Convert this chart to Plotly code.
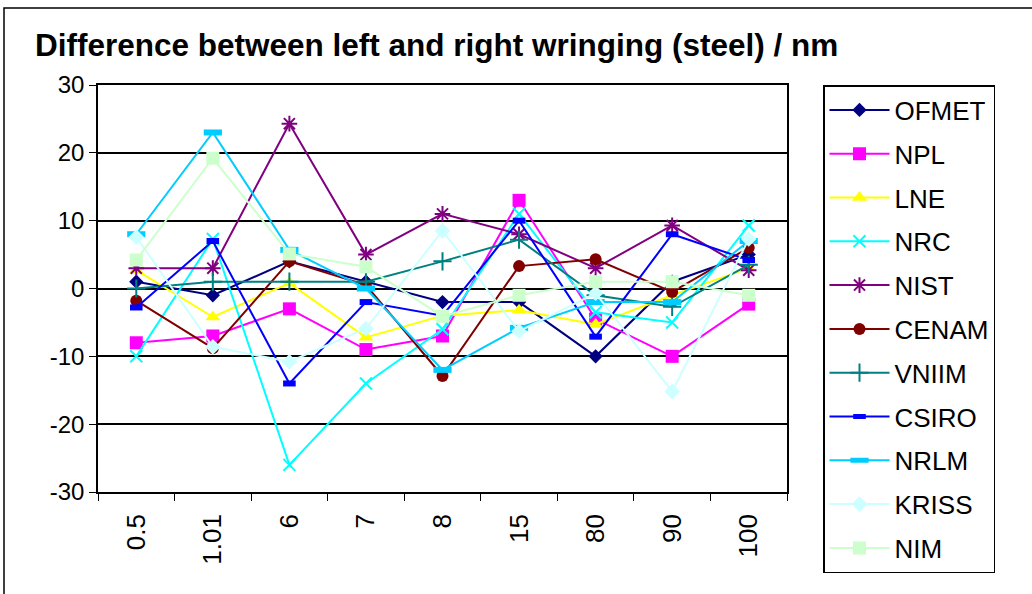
import plotly.graph_objects as go

categories = ["0.5", "1.01", "6", "7", "8", "15", "80", "90", "100"]

OFMET = [1, -1, 4, 1, -2, -2, -10, 1, 5]
NPL = [-8, -7, -3, -9, -7, 13, -4.5, -10, -2.3]
LNE = [2.7, -4.2, 0.8, -7.2, -4, -3.2, -5.3, -1, 3]
NRC = [-10, 7.3, -26, -14, -6, 11, -3.5, -5, 9.3]
NIST = [3, 3, 24.3, 5, 11, 8, 3, 9.3, 2.7]
CENAM = [-1.8, -8.8, 4, 0.5, -12.9, 3.3, 4.3, -0.5, 6]
VNIIM = [0, 1, 1, 1, 4, 7.2, -1, -2.7, 3.5]
CSIRO = [-2.8, 7, -14, -2, -4, 10, -7.1, 8, 4.2]
NRLM = [8, 23, 5.7, 0, -12, -5.8, -2, -2, 7]
KRISS = [7.6, -8.6, -10.8, -5.9, 8.5, -6.3, -0.7, -15.2, 7.3]
NIM = [4.2, 19.2, 5.1, 3.2, -4.1, -1, 1, 1, -1]

y_ticks = [-30, -20, -10, 0, 10, 20, 30]
y_tick_text = ["-30", "-20", "-10", "0", "10", "20", "30"]

series = [
    ("OFMET", OFMET, "#000080", dict(symbol="diamond", size=11)),
    ("NPL", NPL, "#FF00FF", dict(symbol="square", size=13)),
    ("LNE", LNE, "#FFFF00", dict(symbol="triangle-up", size=13)),
    ("NRC", NRC, "#00FFFF", dict(symbol="x-thin-open", size=12, line=dict(width=2, color="#00FFFF"))),
    ("NIST", NIST, "#800080", dict(symbol="asterisk-open", size=13, line=dict(width=2, color="#800080"))),
    ("CENAM", CENAM, "#800000", dict(symbol="circle", size=12)),
    ("VNIIM", VNIIM, "#008080", dict(symbol="cross-thin-open", size=13, line=dict(width=2, color="#008080"))),
    ("CSIRO", CSIRO, "#0000FF", dict(symbol="line-ew-open", size=9, line=dict(width=6, color="#0000FF"))),
    ("NRLM", NRLM, "#00CCFF", dict(symbol="line-ew-open", size=13, line=dict(width=6, color="#00CCFF"))),
    ("KRISS", KRISS, "#CCFFFF", dict(symbol="diamond", size=12)),
    ("NIM", NIM, "#CCFFCC", dict(symbol="square", size=13)),
]

fig = go.Figure()
for name, vals, color, mk in series:
    marker = dict(color=color)
    marker.update(mk)
    fig.add_trace(go.Scatter(
        x=categories, y=vals, name=name, mode="lines+markers",
        line=dict(color=color, width=2), marker=marker,
        legendgroup=name,
    ))

W, H = 1032, 594
L, R, T, B = 98, 245, 85, 102
pw, ph = W - L - R, H - T - B

def px(x):
    return (x - L) / pw

def py(y):
    return (H - B - y) / ph

fig.update_layout(
    width=W, height=H,
    margin=dict(l=L, r=R, t=T, b=B, autoexpand=False),
    paper_bgcolor="white", plot_bgcolor="white",
    font=dict(family="Liberation Sans, Arial, sans-serif", color="black"),
    title=dict(
        text="<b>Difference between left and right wringing (steel) / nm</b>",
        x=35 / W, xanchor="left", y=1 - 45 / H, yanchor="middle",
        font=dict(size=31.5, color="black"),
    ),
    legend=dict(
        x=px(823), xanchor="left",
        yref="container", y=1 - 85 / H, yanchor="top",
        maxheight=560,
        bordercolor="black", borderwidth=1.5, bgcolor="white",
        font=dict(size=26),
        tracegroupgap=7, traceorder="grouped",
        itemwidth=60,
    ),
    showlegend=True,
    shapes=[
        dict(type="rect", xref="paper", yref="paper",
             x0=px(4), x1=px(1040), y0=py(600), y1=py(8),
             line=dict(color="black", width=1.5), layer="below"),
    ],
)

fig.update_xaxes(
    type="category", tickson="boundaries", ticks="outside", ticklen=7,
    tickcolor="black", showline=True, linecolor="black", linewidth=1.5,
    mirror=True, showgrid=False, tickangle=-90, tickfont=dict(size=26),
    ticklabelstandoff=10, automargin=False,
    range=[-0.5, 8.5],
)
fig.update_yaxes(
    range=[-30, 30], tickvals=y_ticks, ticktext=y_tick_text,
    ticks="outside", ticklen=7,
    tickcolor="black", showline=True, linecolor="black", linewidth=1.5,
    mirror=True, showgrid=True, gridcolor="black", gridwidth=1.5,
    zeroline=False, tickfont=dict(size=24), automargin=False,
)

fig.write_html("out.html", config={"displayModeBar": False},
               post_script="document.body.style.margin='0';")
